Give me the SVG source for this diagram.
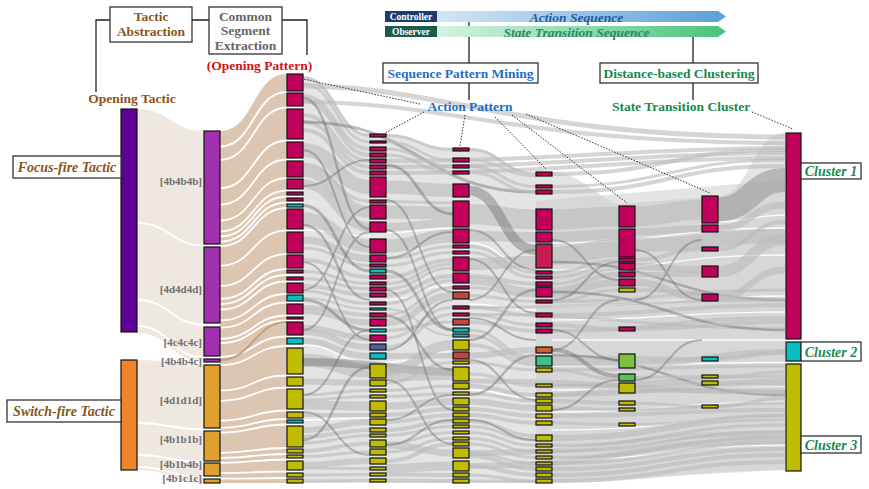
<svg xmlns="http://www.w3.org/2000/svg" width="869" height="489" viewBox="0 0 869 489">
<style>
.t{font-family:"Liberation Serif","Times New Roman",serif;font-weight:bold}
.it{font-style:italic}
.br{fill:#8b5418}
.e{fill:#c9c9c9;fill-opacity:.5}
.l{fill:none;stroke:#bcbcbc;stroke-opacity:.62}
.k{fill:none;stroke:#6a6a6a;stroke-opacity:.42}
.w{fill:none;stroke:#fff;stroke-width:1.8}
.ww{fill:none;stroke:#fff;stroke-width:1.4;stroke-opacity:.9}
.ln{fill:none;stroke:#222;stroke-width:1.3}
.dt{fill:none;stroke:#333;stroke-width:1;stroke-dasharray:1.5 1.5}
.bx{fill:#fff;stroke:#333;stroke-width:1.3}
rect.b{stroke:#111;stroke-width:1.2}
.m{fill:#c0005a}.c{fill:#00c0c0}.y{fill:#c0bc00}.r{fill:#c24444}.o{fill:#d0602c}.g{fill:#40c080}.q{fill:#80c040}.h{fill:#60c060}.p{fill:#5c5c94}.n{fill:#c41e50}
.sg{fill:#707070;font-size:11px;text-anchor:end}
</style>
<defs>
<linearGradient id="gb" x1="0" x2="1"><stop offset="0" stop-color="#d4e6f5"/><stop offset="1" stop-color="#5b9fd6"/></linearGradient>
<linearGradient id="gg" x1="0" x2="1"><stop offset="0" stop-color="#d6f2e2"/><stop offset="1" stop-color="#48c47c"/></linearGradient>
</defs>

<g id="tactic-flows">
<path fill="#efe8e1" d="M137 109C170 109 171 131 204 131L204 362C171 362 170 333 137 333Z"/>
<path fill="#efe8e1" d="M137 360C170 360 171 365 204 365L204 483C171 483 170 470 137 470Z"/>
<path class="w" d="M137 223C170 223 171 245.5 204 245.5M137 300C170 300 171 324.5 204 324.5M137 326C170 326 171 357.5 204 357.5M137 423C170 423 171 429.5 204 429.5M137 455C170 455 171 462 204 462M137 467C170 467 171 477.5 204 477.5"/>
</g>
<g id="segment-flows">
<path fill="#dcc6b2" d="M220 131C254 131 253 74 287 74L287 483L220 483Z"/>
<path class="w" d="M220 146.5C254 146.5 253 92 287 92M220 159.8C254 159.8 253 107.5 287 107.5M220 188.2C254 188.2 253 140.5 287 140.5M220 204.6C254 204.6 253 159.5 287 159.5M220 220.5C254 220.5 253 178 287 178M220 231.3C254 231.3 253 190.5 287 190.5M220 236.4C254 236.4 253 196.5 287 196.5M220 241.6C254 241.6 253 202.5 287 202.5M220 246.3C254 246.3 253 208 287 208M220 265.7C254 265.7 253 230.5 287 230.5M220 285.9C254 285.9 253 254 287 254M220 298.8C254 298.8 253 269 287 269M220 304C254 304 253 275 287 275M220 309.6C254 309.6 253 281.5 287 281.5M220 320.3C254 320.3 253 294 287 294M220 327.7C254 327.7 253 302.5 287 302.5M220 338.8C254 338.8 253 315.5 287 315.5M220 343.1C254 343.1 253 320.5 287 320.5M220 356.9C254 356.9 253 336.5 287 336.5M220 365.1C254 365.1 253 346 287 346M220 390.5C254 390.5 253 375.5 287 375.5M220 400.8C254 400.8 253 387.5 287 387.5M220 420.6C254 420.6 253 410.5 287 410.5M220 427.9C254 427.9 253 419 287 419M220 432.7C254 432.7 253 424.5 287 424.5M220 452.9C254 452.9 253 448 287 448M220 458C254 458 253 454 287 454M220 462.8C254 462.8 253 459.5 287 459.5M220 473.1C254 473.1 253 471.5 287 471.5M220 478.7C254 478.7 253 478 287 478"/>
<path fill="none" stroke="#c4a282" stroke-width="2" d="M220 360C252 360 255 322 287 322"/>
</g>

<g id="connectors">
<path class="e" d="M303 76C336 76 336 134 370 134L386 134C419 134 419 148 453 148L469 148C502 148 502 172 536 172L552 172C580 172 600 200 619 204L718 196C751 196 751 133 785 133L785 470C700 470 640 483 552 483L303 483Z"/>
<path class="e" d="M536 201L785 180L785 470L536 483Z"/>
<path class="ww" d="M552 243C668 243 668 228 785 228M552 270C668 270 668 255 785 255M552 306C668 306 668 296 785 296M552 320C668 320 668 312 785 312M552 340C668 340 668 340 785 340M552 366C668 366 668 362.5 785 362.5M552 390C668 390 668 386 785 386M552 412C668 412 668 402 785 402M552 430C668 430 668 418 785 418M552 448C668 448 668 430 785 430M552 460C668 460 668 445 785 445M718 222C751 222 751 215 785 215M469 243C502 243 502 270 536 270M469 304C502 304 502 310 536 310M469 390C502 390 502 398 536 398M386 233C419 233 419 228 453 228M386 300C419 300 419 285 453 285M386 362C419 362 419 352 453 352M303 230C336 230 336 236 370 236M303 345C336 345 336 362 370 362M303 420C336 420 336 418 370 418"/>
<!-- gap 3-4 -->
<path class="l" stroke-width="3" d="M303 78C336 78 336 135.5 370 135.5"/>
<path class="l" stroke-width="2.5" d="M303 84C336 84 336 142 370 142"/>
<path class="l" stroke-width="4" d="M303 96C336 96 336 149 370 149"/>
<path class="l" stroke-width="4" d="M303 101C336 101 336 155 370 155"/>
<path class="l" stroke-width="4" d="M303 115C336 115 336 161 370 161"/>
<path class="l" stroke-width="4" d="M303 122C336 122 336 167 370 167"/>
<path class="l" stroke-width="4" d="M303 130C336 130 336 173 370 173"/>
<path class="l" stroke-width="14" d="M303 150C336 150 336 187 370 187"/>
<path class="l" stroke-width="3" d="M303 164C336 164 336 201.5 370 201.5"/>
<path class="l" stroke-width="12" d="M303 171C336 171 336 212 370 212"/>
<path class="l" stroke-width="9" d="M303 184C336 184 336 227 370 227"/>
<path class="l" stroke-width="13" d="M303 219C336 219 336 246 370 246"/>
<path class="l" stroke-width="7" d="M303 240C336 240 336 258.5 370 258.5"/>
<path class="l" stroke-width="3" d="M303 248C336 248 336 265.5 370 265.5"/>
<path class="l" stroke-width="4" d="M303 260C336 260 336 277 370 277"/>
<path class="l" stroke-width="3" d="M303 271.5C336 271.5 336 283.5 370 283.5"/>
<path class="l" stroke-width="3" d="M303 278.5C336 278.5 336 289 370 289"/>
<path class="l" stroke-width="4" d="M303 286C336 286 336 295 370 295"/>
<path class="l" stroke-width="3" d="M303 291C336 291 336 303.5 370 303.5"/>
<path class="l" stroke-width="2" d="M303 298C336 298 336 309 370 309"/>
<path class="l" stroke-width="4" d="M303 307C336 307 336 315 370 315"/>
<path class="l" stroke-width="6" d="M303 311C336 311 336 322.5 370 322.5"/>
<path class="l" stroke-width="6" d="M303 328C336 328 336 338 370 338"/>
<path class="l" stroke-width="6" d="M303 332C336 332 336 347 370 347"/>
<path class="l" stroke-width="6" d="M303 341C336 341 336 356 370 356"/>
<path class="l" stroke-width="13" d="M303 360C336 360 336 371 370 371"/>
<path class="l" stroke-width="6" d="M303 381.5C336 381.5 336 383 370 383"/>
<path class="l" stroke-width="3" d="M303 395C336 395 336 390.5 370 390.5"/>
<path class="l" stroke-width="3" d="M303 400C336 400 336 396.5 370 396.5"/>
<path class="l" stroke-width="9" d="M303 405C336 405 336 406 370 406"/>
<path class="l" stroke-width="4" d="M303 415C336 415 336 415 370 415"/>
<path class="l" stroke-width="6" d="M303 430C336 430 336 422 370 422"/>
<path class="l" stroke-width="4" d="M303 437C336 437 336 430 370 430"/>
<path class="l" stroke-width="3" d="M303 443C336 443 336 435.5 370 435.5"/>
<path class="l" stroke-width="4" d="M303 451C336 451 336 443.5 370 443.5"/>
<path class="l" stroke-width="3" d="M303 456.5C336 456.5 336 452 370 452"/>
<path class="l" stroke-width="6" d="M303 465C336 465 336 461 370 461"/>
<path class="l" stroke-width="3" d="M303 468C336 468 336 468.5 370 468.5"/>
<path class="l" stroke-width="3" d="M303 475C336 475 336 474.5 370 474.5"/>
<path class="l" stroke-width="3" d="M303 481C336 481 336 480.5 370 480.5"/>
<path class="l" stroke-width="5" d="M303 86C440 86 520 137 785 137"/>
<path class="l" stroke-width="4" d="M303 102C450 102 520 143 785 143"/>
<path class="k" stroke-width="3" d="M303 205.5C336 205.5 336 271 370 271"/>
<path class="k" stroke-width="3" d="M303 300C336 300 336 330.5 370 330.5"/>
<path class="k" stroke-width="8" d="M303 362C380 362 400 372 453 372"/>
<path class="k" stroke-width="3" d="M303 122C420 122 420 192 536 192"/>
<path class="k" stroke-width="2.5" d="M303 98C336 98 336 229 370 229M303 225C336 225 336 300 370 300M303 440C336 440 336 367 370 367"/>
<path class="k" stroke-width="2" d="M303 150C336 150 336 247 370 247M303 262C336 262 336 340 370 340M303 330C336 330 336 232 370 232M303 395C336 395 336 330 370 330M303 290C336 290 336 207 370 207M303 186C336 186 336 160 370 160M303 412C336 412 336 455 370 455"/>
<!-- gap 4-5 -->
<path class="l" stroke-width="3" d="M386 135.5C419 135.5 419 149.5 453 149.5"/>
<path class="l" stroke-width="2.5" d="M386 142C419 142 419 160 453 160"/>
<path class="l" stroke-width="3" d="M386 149C419 149 419 166.5 453 166.5"/>
<path class="l" stroke-width="3" d="M386 155C419 155 419 172.5 453 172.5"/>
<path class="l" stroke-width="13" d="M386 187C419 187 419 190.5 453 190.5"/>
<path class="l" stroke-width="3" d="M386 201.5C419 201.5 419 203 453 203"/>
<path class="l" stroke-width="13" d="M386 212C419 212 419 213 453 213"/>
<path class="l" stroke-width="8" d="M386 227C419 227 419 223 453 223"/>
<path class="l" stroke-width="13" d="M386 246C419 246 419 236 453 236"/>
<path class="l" stroke-width="3" d="M386 258.5C419 258.5 419 246.5 453 246.5"/>
<path class="l" stroke-width="3" d="M386 265.5C419 265.5 419 252.5 453 252.5"/>
<path class="l" stroke-width="4" d="M386 277C419 277 419 260 453 260"/>
<path class="l" stroke-width="3" d="M386 283.5C419 283.5 419 264 453 264"/>
<path class="l" stroke-width="3" d="M386 289C419 289 419 268 453 268"/>
<path class="l" stroke-width="4" d="M386 295C419 295 419 276 453 276"/>
<path class="l" stroke-width="3" d="M386 303.5C419 303.5 419 280.5 453 280.5"/>
<path class="l" stroke-width="3" d="M386 315C419 315 419 287.5 453 287.5"/>
<path class="l" stroke-width="7" d="M386 322.5C419 322.5 419 295.5 453 295.5"/>
<path class="l" stroke-width="3" d="M386 338C419 338 419 307.5 453 307.5"/>
<path class="l" stroke-width="3" d="M386 347C419 347 419 314.5 453 314.5"/>
<path class="l" stroke-width="3" d="M386 330.5C419 330.5 419 322 453 322"/>
<path class="l" stroke-width="2" d="M386 309C419 309 419 335.5 453 335.5"/>
<path class="l" stroke-width="10" d="M386 371C419 371 419 345 453 345"/>
<path class="l" stroke-width="6" d="M386 356C419 356 419 355.5 453 355.5"/>
<path class="l" stroke-width="3" d="M386 383C419 383 419 362.5 453 362.5"/>
<path class="l" stroke-width="12" d="M386 375C419 375 419 374 453 374"/>
<path class="l" stroke-width="3" d="M386 390.5C419 390.5 419 386 453 386"/>
<path class="l" stroke-width="3" d="M386 396.5C419 396.5 419 393.5 453 393.5"/>
<path class="l" stroke-width="7" d="M386 406C419 406 419 401.5 453 401.5"/>
<path class="l" stroke-width="4" d="M386 415C419 415 419 409 453 409"/>
<path class="l" stroke-width="4" d="M386 422C419 422 419 415 453 415"/>
<path class="l" stroke-width="4" d="M386 430C419 430 419 421 453 421"/>
<path class="l" stroke-width="3" d="M386 435.5C419 435.5 419 426.5 453 426.5"/>
<path class="l" stroke-width="3" d="M386 443.5C419 443.5 419 432.5 453 432.5"/>
<path class="l" stroke-width="3" d="M386 452C419 452 419 438.5 453 438.5"/>
<path class="l" stroke-width="4" d="M386 461C419 461 419 444 453 444"/>
<path class="l" stroke-width="7" d="M386 445C419 445 419 453 453 453"/>
<path class="l" stroke-width="9" d="M386 468.5C419 468.5 419 466 453 466"/>
<path class="l" stroke-width="4" d="M386 474.5C419 474.5 419 475 453 475"/>
<path class="l" stroke-width="4" d="M386 480.5C419 480.5 419 481 453 481"/>
<path class="l" stroke-width="4" d="M386 161C560 161 640 148 785 148"/>
<path class="l" stroke-width="4" d="M386 167C560 167 640 153 785 153"/>
<path class="l" stroke-width="4" d="M386 173C560 173 640 158 785 158"/>
<path class="k" stroke-width="3" d="M386 271C419 271 419 330 453 330M386 165C419 165 419 214 453 214"/>
<path class="k" stroke-width="2.5" d="M386 316C419 316 419 370 453 370"/>
<path class="k" stroke-width="2" d="M386 200C419 200 419 292 453 292M386 258C419 258 419 232 453 232M386 350C419 350 419 300 453 300M386 420C419 420 419 395 453 395M386 290C419 290 419 410 453 410M386 230C419 230 419 330 453 330M386 380C419 380 419 444 453 444M386 445C419 445 419 420 453 420"/>
<!-- gap 5-6 -->
<path class="l" stroke-width="3" d="M469 149.5C502 149.5 502 174 536 174"/>
<path class="l" stroke-width="2" d="M469 160C502 160 502 176 536 176"/>
<path class="l" stroke-width="3" d="M469 166.5C502 166.5 502 186.5 536 186.5"/>
<path class="l" stroke-width="3" d="M469 172.5C502 172.5 502 192 536 192"/>
<path class="l" stroke-width="20" d="M469 214C502 214 502 219.5 536 219.5"/>
<path class="l" stroke-width="10" d="M469 236C502 236 502 237 536 237"/>
<path class="l" stroke-width="12" d="M469 264C502 264 502 262 536 262"/>
<path class="l" stroke-width="3" d="M469 246.5C502 246.5 502 272.5 536 272.5"/>
<path class="l" stroke-width="3" d="M469 252.5C502 252.5 502 277.5 536 277.5"/>
<path class="l" stroke-width="4" d="M469 276C502 276 502 284 536 284"/>
<path class="l" stroke-width="8" d="M469 280.5C502 280.5 502 292 536 292"/>
<path class="l" stroke-width="3" d="M469 287.5C502 287.5 502 296 536 296"/>
<path class="l" stroke-width="3" d="M469 295.5C502 295.5 502 301.5 536 301.5"/>
<path class="l" stroke-width="3" d="M469 307.5C502 307.5 502 315 536 315"/>
<path class="l" stroke-width="3" d="M469 314.5C502 314.5 502 325 536 325"/>
<path class="l" stroke-width="4" d="M469 322C502 322 502 331 536 331"/>
<path class="l" stroke-width="6" d="M469 355.5C502 355.5 502 350 536 350"/>
<path class="l" stroke-width="3" d="M469 330C502 330 502 358 536 358"/>
<path class="l" stroke-width="3" d="M469 335.5C502 335.5 502 361 536 361"/>
<path class="l" stroke-width="4" d="M469 345C502 345 502 364 536 364"/>
<path class="l" stroke-width="3" d="M469 362.5C502 362.5 502 370 536 370"/>
<path class="l" stroke-width="3" d="M469 374C502 374 502 385.5 536 385.5"/>
<path class="l" stroke-width="4" d="M469 386C502 386 502 395 536 395"/>
<path class="l" stroke-width="3" d="M469 393.5C502 393.5 502 401 536 401"/>
<path class="l" stroke-width="6" d="M469 401.5C502 401.5 502 408 536 408"/>
<path class="l" stroke-width="4" d="M469 409C502 409 502 416 536 416"/>
<path class="l" stroke-width="4" d="M469 415C502 415 502 423 536 423"/>
<path class="l" stroke-width="4" d="M469 421C502 421 502 436 536 436"/>
<path class="l" stroke-width="3" d="M469 426.5C502 426.5 502 440 536 440"/>
<path class="l" stroke-width="3" d="M469 432.5C502 432.5 502 445.5 536 445.5"/>
<path class="l" stroke-width="3" d="M469 438.5C502 438.5 502 451.5 536 451.5"/>
<path class="l" stroke-width="3" d="M469 444C502 444 502 457.5 536 457.5"/>
<path class="l" stroke-width="3" d="M469 453C502 453 502 463.5 536 463.5"/>
<path class="l" stroke-width="4" d="M469 456C502 456 502 469 536 469"/>
<path class="l" stroke-width="4" d="M469 466C502 466 502 475 536 475"/>
<path class="l" stroke-width="3" d="M469 475C502 475 502 481 536 481"/>
<path class="l" stroke-width="3" d="M469 481C502 481 502 481.5 536 481.5"/>
<path class="l" stroke-width="5" d="M469 381C627 381 627 392 785 392"/>
<path class="l" stroke-width="6" d="M469 453C627 453 627 433 785 433"/>
<path class="l" stroke-width="6" d="M469 466C627 466 627 440 785 440"/>
<path class="l" stroke-width="3" d="M469 307.5C627 307.5 627 300 785 300"/>
<path class="l" stroke-width="3" d="M469 314.5C627 314.5 627 328 785 328"/>
<path class="k" stroke-width="10" d="M469 190.5C502 190.5 502 250 536 250"/>
<path class="k" stroke-width="2.5" d="M469 340C502 340 502 290 536 290M469 395C502 395 502 355 536 355"/>
<path class="k" stroke-width="2" d="M469 259C502 259 502 313 536 313M469 300C502 300 502 250 536 250M469 360C502 360 502 400 536 400M469 230C502 230 502 270 536 270M469 420C502 420 502 440 536 440M469 318C502 318 502 340 536 340"/>
<!-- gap 6-7 -->
<path class="l" stroke-width="20" d="M552 219.5C585 219.5 585 216.5 619 216.5"/>
<path class="l" stroke-width="10" d="M552 237C585 237 585 234 619 234"/>
<path class="l" stroke-width="18" d="M552 256C585 256 585 248 619 248"/>
<path class="l" stroke-width="3" d="M552 272.5C585 272.5 585 260 619 260"/>
<path class="l" stroke-width="3" d="M552 277.5C585 277.5 585 265 619 265"/>
<path class="l" stroke-width="3" d="M552 284C585 284 585 268.5 619 268.5"/>
<path class="l" stroke-width="5" d="M552 290C585 290 585 274.5 619 274.5"/>
<path class="l" stroke-width="7" d="M552 294C585 294 585 282.5 619 282.5"/>
<path class="l" stroke-width="3" d="M552 301.5C585 301.5 585 290 619 290"/>
<path class="l" stroke-width="4" d="M552 325C585 325 585 329 619 329"/>
<path class="l" stroke-width="10" d="M552 361C585 361 585 361 619 361"/>
<path class="l" stroke-width="3" d="M552 370C585 370 585 379 619 379"/>
<path class="l" stroke-width="3" d="M552 385.5C585 385.5 585 386 619 386"/>
<path class="l" stroke-width="4" d="M552 395C585 395 585 390 619 390"/>
<path class="l" stroke-width="4" d="M552 401C585 401 585 403 619 403"/>
<path class="l" stroke-width="3" d="M552 408C585 408 585 409.5 619 409.5"/>
<path class="l" stroke-width="3" d="M552 423C585 423 585 424.5 619 424.5"/>
<path class="l" stroke-width="4" d="M552 174C668 174 668 150 785 150"/>
<path class="l" stroke-width="3" d="M552 186.5C668 186.5 668 160 785 160"/>
<path class="l" stroke-width="4" d="M552 192C668 192 668 166 785 166"/>
<path class="l" stroke-width="4" d="M552 315C668 315 668 305 785 305"/>
<path class="l" stroke-width="4" d="M552 331C668 331 668 318 785 318"/>
<path class="l" stroke-width="4" d="M552 416C668 416 668 410 785 410"/>
<path class="l" stroke-width="6" d="M552 438C668 438 668 418 785 418"/>
<path class="l" stroke-width="3" d="M552 445.5C668 445.5 668 425 785 425"/>
<path class="l" stroke-width="3" d="M552 451.5C668 451.5 668 431 785 431"/>
<path class="l" stroke-width="3" d="M552 457.5C668 457.5 668 437 785 437"/>
<path class="l" stroke-width="3" d="M552 463.5C668 463.5 668 443 785 443"/>
<path class="l" stroke-width="4" d="M552 469C668 469 668 449 785 449"/>
<path class="l" stroke-width="4" d="M552 475C668 475 668 455 785 455"/>
<path class="l" stroke-width="4" d="M552 481C668 481 668 462 785 462"/>
<path class="l" stroke-width="3" d="M552 301.5C668 301.5 668 290 785 290"/>
<path class="l" stroke-width="3" d="M552 370C668 370 668 366 785 366"/>
<path class="l" stroke-width="3" d="M552 385.5C668 385.5 668 376 785 376"/>
<path class="l" stroke-width="4" d="M552 395C668 395 668 384 785 384"/>
<path class="k" stroke-width="4" d="M552 350C585 350 585 376 619 376"/>
<path class="k" stroke-width="2" d="M552 240C585 240 585 280 619 280M552 300C585 300 585 262 619 262M552 330C585 330 585 360 619 360M552 410C585 410 585 380 619 380M552 350C585 350 585 300 619 300"/>
<path class="k" stroke-width="2.5" d="M552 355C668 355 668 395 785 395M552 292C668 292 668 330 785 330M552 262C668 262 668 300 785 300"/>
<!-- gap 7-8 -->
<path class="l" stroke-width="20" d="M635 216.5C668 216.5 668 209.5 702 209.5"/>
<path class="l" stroke-width="7" d="M635 232C668 232 668 228.5 702 228.5"/>
<path class="l" stroke-width="4" d="M635 260C668 260 668 249 702 249"/>
<path class="l" stroke-width="7" d="M635 266.5C668 266.5 668 269.5 702 269.5"/>
<path class="l" stroke-width="5" d="M635 274.5C668 274.5 668 274 702 274"/>
<path class="l" stroke-width="7" d="M635 282.5C668 282.5 668 297.5 702 297.5"/>
<path class="l" stroke-width="4" d="M635 358C668 358 668 359 702 359"/>
<path class="l" stroke-width="3" d="M635 377.5C668 377.5 668 376.5 702 376.5"/>
<path class="l" stroke-width="4" d="M635 386C668 386 668 383 702 383"/>
<path class="l" stroke-width="3" d="M635 403C668 403 668 406.5 702 406.5"/>
<path class="l" stroke-width="14" d="M635 245C710 245 710 236 785 236"/>
<path class="l" stroke-width="4" d="M635 290C710 290 710 300 785 300"/>
<path class="l" stroke-width="4" d="M635 329C710 329 710 322 785 322"/>
<path class="l" stroke-width="6" d="M635 363C710 363 710 352 785 352"/>
<path class="l" stroke-width="5" d="M635 390C710 390 710 392 785 392"/>
<path class="l" stroke-width="3" d="M635 409.5C710 409.5 710 403 785 403"/>
<path class="l" stroke-width="3" d="M635 424.5C710 424.5 710 415 785 415"/>
<path class="k" stroke-width="2" d="M635 250C668 250 668 300 702 300M635 300C668 300 668 240 702 240M635 380C668 380 668 340 702 340"/>
<!-- gap 8-cluster -->
<path fill="none" stroke="#9a9a9a" stroke-opacity=".6" stroke-width="24" d="M718 209.5C751 209.5 751 180 785 180"/>
<path class="l" stroke-width="7" d="M718 228.5C751 228.5 751 205 785 205"/>
<path class="l" stroke-width="4" d="M718 249C751 249 751 222 785 222"/>
<path class="l" stroke-width="11" d="M718 271.5C751 271.5 751 240 785 240"/>
<path class="l" stroke-width="7" d="M718 297.5C751 297.5 751 270 785 270"/>
<path class="l" stroke-width="4" d="M718 359C751 359 751 352 785 352"/>
<path class="l" stroke-width="3" d="M718 376.5C751 376.5 751 372 785 372"/>
<path class="l" stroke-width="4" d="M718 383C751 383 751 380 785 380"/>
<path class="l" stroke-width="3" d="M718 406.5C751 406.5 751 398 785 398"/>
</g>

<g id="focus-fire-tactic"><rect class="b" x="121" y="109" width="16" height="223" fill="#5c0096"/></g>
<g id="switch-fire-tactic"><rect class="b" x="121" y="360" width="16" height="110" fill="#f0842c"/></g>

<g id="segments">
<rect class="b" x="204" y="131" width="16" height="113" fill="#a030b0"/>
<rect class="b" x="204" y="247" width="16" height="76" fill="#a030b0"/>
<rect class="b" x="204" y="327" width="16" height="29" fill="#a030b0"/>
<rect class="b" x="204" y="359" width="16" height="3" fill="#a030b0"/>
<rect class="b" x="204" y="365" width="16" height="63" fill="#e0a030"/>
<rect class="b" x="204" y="431" width="16" height="30" fill="#e0a030"/>
<rect class="b" x="204" y="463" width="16" height="13" fill="#e0a030"/>
<rect class="b" x="204" y="479" width="16" height="4" fill="#e0a030"/>
<text class="t sg" x="202" y="185">[4b4b4b]</text>
<text class="t sg" x="202" y="293">[4d4d4d]</text>
<text class="t sg" x="202" y="346">[4c4c4c]</text>
<text class="t sg" x="202" y="365">[4b4b4c]</text>
<text class="t sg" x="202" y="404">[4d1d1d]</text>
<text class="t sg" x="202" y="443">[4b1b1b]</text>
<text class="t sg" x="202" y="468">[4b1b4b]</text>
<text class="t sg" x="202" y="482">[4b1c1c]</text>
</g>

<g id="opening-patterns">
<rect class="b m" x="287" y="74" width="16" height="17"/>
<rect class="b m" x="287" y="93" width="16" height="13"/>
<rect class="b m" x="287" y="109" width="16" height="30"/>
<rect class="b m" x="287" y="142" width="16" height="16"/>
<rect class="b m" x="287" y="161" width="16" height="16"/>
<rect class="b m" x="287" y="179" width="16" height="10"/>
<rect class="b m" x="287" y="192" width="16" height="3"/>
<rect class="b m" x="287" y="198" width="16" height="3"/>
<rect class="b c" x="287" y="204" width="16" height="3"/>
<rect class="b m" x="287" y="209" width="16" height="20"/>
<rect class="b m" x="287" y="232" width="16" height="21"/>
<rect class="b m" x="287" y="255" width="16" height="13"/>
<rect class="b m" x="287" y="270" width="16" height="3"/>
<rect class="b m" x="287" y="277" width="16" height="3"/>
<rect class="b m" x="287" y="283" width="16" height="10"/>
<rect class="b c" x="287" y="295" width="16" height="6"/>
<rect class="b m" x="287" y="304" width="16" height="10"/>
<rect class="b m" x="287" y="317" width="16" height="2"/>
<rect class="b m" x="287" y="322" width="16" height="13"/>
<rect class="b c" x="287" y="338" width="16" height="6"/>
<rect class="b y" x="287" y="348" width="16" height="26"/>
<rect class="b y" x="287" y="377" width="16" height="9"/>
<rect class="b y" x="287" y="389" width="16" height="20"/>
<rect class="b y" x="287" y="412" width="16" height="6"/>
<rect class="b c" x="287" y="420" width="16" height="3"/>
<rect class="b y" x="287" y="426" width="16" height="21"/>
<rect class="b y" x="287" y="449" width="16" height="4"/>
<rect class="b y" x="287" y="455" width="16" height="3"/>
<rect class="b y" x="287" y="461" width="16" height="9"/>
<rect class="b y" x="287" y="473" width="16" height="4"/>
<rect class="b y" x="287" y="479" width="16" height="4"/>
</g>

<g id="action-col-2">
<rect class="b m" x="370" y="134" width="16" height="3"/>
<rect class="b m" x="370" y="141" width="16" height="2"/>
<rect class="b m" x="370" y="147" width="16" height="4"/>
<rect class="b m" x="370" y="153" width="16" height="4"/>
<rect class="b m" x="370" y="159" width="16" height="4"/>
<rect class="b m" x="370" y="165" width="16" height="4"/>
<rect class="b m" x="370" y="171" width="16" height="4"/>
<rect class="b m" x="370" y="177" width="16" height="20"/>
<rect class="b m" x="370" y="200" width="16" height="3"/>
<rect class="b m" x="370" y="205" width="16" height="14"/>
<rect class="b m" x="370" y="222" width="16" height="10"/>
<rect class="b m" x="370" y="239" width="16" height="14"/>
<rect class="b m" x="370" y="255" width="16" height="7"/>
<rect class="b m" x="370" y="264" width="16" height="3"/>
<rect class="b c" x="370" y="269" width="16" height="4"/>
<rect class="b m" x="370" y="275" width="16" height="4"/>
<rect class="b m" x="370" y="282" width="16" height="3"/>
<rect class="b m" x="370" y="287" width="16" height="4"/>
<rect class="b m" x="370" y="293" width="16" height="4"/>
<rect class="b m" x="370" y="302" width="16" height="3"/>
<rect class="b c" x="370" y="308" width="16" height="2"/>
<rect class="b m" x="370" y="313" width="16" height="4"/>
<rect class="b m" x="370" y="319" width="16" height="7"/>
<rect class="b c" x="370" y="329" width="16" height="3"/>
<rect class="b m" x="370" y="335" width="16" height="6"/>
<rect class="b p" x="370" y="344" width="16" height="6"/>
<rect class="b c" x="370" y="353" width="16" height="6"/>
<rect class="b y" x="370" y="364" width="16" height="14"/>
<rect class="b y" x="370" y="380" width="16" height="6"/>
<rect class="b y" x="370" y="389" width="16" height="3"/>
<rect class="b y" x="370" y="395" width="16" height="3"/>
<rect class="b y" x="370" y="401" width="16" height="10"/>
<rect class="b y" x="370" y="413" width="16" height="4"/>
<rect class="b y" x="370" y="419" width="16" height="6"/>
<rect class="b y" x="370" y="428" width="16" height="4"/>
<rect class="b y" x="370" y="434" width="16" height="3"/>
<rect class="b y" x="370" y="440" width="16" height="7"/>
<rect class="b y" x="370" y="449" width="16" height="6"/>
<rect class="b y" x="370" y="458" width="16" height="6"/>
<rect class="b y" x="370" y="467" width="16" height="3"/>
<rect class="b y" x="370" y="473" width="16" height="3"/>
<rect class="b y" x="370" y="479" width="16" height="3"/>
</g>

<g id="action-col-3">
<rect class="b m" x="453" y="148" width="16" height="3"/>
<rect class="b m" x="453" y="158" width="16" height="4"/>
<rect class="b m" x="453" y="165" width="16" height="3"/>
<rect class="b m" x="453" y="171" width="16" height="3"/>
<rect class="b m" x="453" y="184" width="16" height="13"/>
<rect class="b m" x="453" y="201" width="16" height="26"/>
<rect class="b m" x="453" y="229" width="16" height="14"/>
<rect class="b m" x="453" y="245" width="16" height="3"/>
<rect class="b m" x="453" y="251" width="16" height="3"/>
<rect class="b m" x="453" y="257" width="16" height="14"/>
<rect class="b m" x="453" y="273" width="16" height="10"/>
<rect class="b m" x="453" y="286" width="16" height="3"/>
<rect class="b r" x="453" y="292" width="16" height="7"/>
<rect class="b m" x="453" y="306" width="16" height="3"/>
<rect class="b m" x="453" y="313" width="16" height="3"/>
<rect class="b r" x="453" y="319" width="16" height="6"/>
<rect class="b c" x="453" y="328" width="16" height="4"/>
<rect class="b c" x="453" y="334" width="16" height="3"/>
<rect class="b y" x="453" y="340" width="16" height="10"/>
<rect class="b r" x="453" y="352" width="16" height="7"/>
<rect class="b y" x="453" y="361" width="16" height="3"/>
<rect class="b y" x="453" y="367" width="16" height="14"/>
<rect class="b y" x="453" y="383" width="16" height="6"/>
<rect class="b y" x="453" y="392" width="16" height="3"/>
<rect class="b y" x="453" y="398" width="16" height="7"/>
<rect class="b y" x="453" y="407" width="16" height="4"/>
<rect class="b y" x="453" y="413" width="16" height="4"/>
<rect class="b y" x="453" y="419" width="16" height="4"/>
<rect class="b y" x="453" y="425" width="16" height="3"/>
<rect class="b y" x="453" y="431" width="16" height="3"/>
<rect class="b y" x="453" y="437" width="16" height="3"/>
<rect class="b y" x="453" y="442" width="16" height="4"/>
<rect class="b y" x="453" y="448" width="16" height="10"/>
<rect class="b y" x="453" y="461" width="16" height="10"/>
<rect class="b y" x="453" y="473" width="16" height="4"/>
<rect class="b y" x="453" y="479" width="16" height="4"/>
</g>

<g id="action-col-4">
<rect class="b m" x="536" y="172" width="16" height="4"/>
<rect class="b m" x="536" y="185" width="16" height="3"/>
<rect class="b m" x="536" y="190" width="16" height="4"/>
<rect class="b m" x="536" y="209" width="16" height="21"/>
<rect class="b m" x="536" y="232" width="16" height="10"/>
<rect class="b n" x="536" y="244" width="16" height="24"/>
<rect class="b m" x="536" y="271" width="16" height="3"/>
<rect class="b m" x="536" y="276" width="16" height="3"/>
<rect class="b m" x="536" y="282" width="16" height="4"/>
<rect class="b m" x="536" y="287" width="16" height="10"/>
<rect class="b m" x="536" y="300" width="16" height="3"/>
<rect class="b m" x="536" y="313" width="16" height="4"/>
<rect class="b m" x="536" y="323" width="16" height="4"/>
<rect class="b m" x="536" y="329" width="16" height="4"/>
<rect class="b o" x="536" y="347" width="16" height="6"/>
<rect class="b g" x="536" y="356" width="16" height="10"/>
<rect class="b y" x="536" y="368" width="16" height="4"/>
<rect class="b y" x="536" y="384" width="16" height="3"/>
<rect class="b y" x="536" y="393" width="16" height="4"/>
<rect class="b y" x="536" y="399" width="16" height="4"/>
<rect class="b y" x="536" y="405" width="16" height="6"/>
<rect class="b y" x="536" y="414" width="16" height="4"/>
<rect class="b y" x="536" y="421" width="16" height="4"/>
<rect class="b y" x="536" y="435" width="16" height="6"/>
<rect class="b y" x="536" y="444" width="16" height="3"/>
<rect class="b y" x="536" y="450" width="16" height="3"/>
<rect class="b y" x="536" y="456" width="16" height="3"/>
<rect class="b y" x="536" y="462" width="16" height="3"/>
<rect class="b y" x="536" y="467" width="16" height="4"/>
<rect class="b y" x="536" y="473" width="16" height="4"/>
<rect class="b y" x="536" y="479" width="16" height="4"/>
</g>

<g id="action-col-5">
<rect class="b m" x="619" y="206" width="16" height="21"/>
<rect class="b m" x="619" y="229" width="16" height="28"/>
<rect class="b m" x="619" y="258" width="16" height="4"/>
<rect class="b m" x="619" y="263" width="16" height="7"/>
<rect class="b m" x="619" y="272" width="16" height="5"/>
<rect class="b m" x="619" y="279" width="16" height="7"/>
<rect class="b y" x="619" y="288" width="16" height="4"/>
<rect class="b m" x="619" y="327" width="16" height="4"/>
<rect class="b q" x="619" y="354" width="16" height="14"/>
<rect class="b h" x="619" y="374" width="16" height="7"/>
<rect class="b y" x="619" y="383" width="16" height="10"/>
<rect class="b y" x="619" y="401" width="16" height="4"/>
<rect class="b y" x="619" y="408" width="16" height="3"/>
<rect class="b y" x="619" y="423" width="16" height="3"/>
</g>

<g id="action-col-6">
<rect class="b m" x="702" y="196" width="16" height="27"/>
<rect class="b m" x="702" y="225" width="16" height="7"/>
<rect class="b m" x="702" y="247" width="16" height="4"/>
<rect class="b m" x="702" y="266" width="16" height="11"/>
<rect class="b m" x="702" y="294" width="16" height="7"/>
<rect class="b c" x="702" y="357" width="16" height="4"/>
<rect class="b y" x="702" y="375" width="16" height="3"/>
<rect class="b y" x="702" y="381" width="16" height="4"/>
<rect class="b y" x="702" y="405" width="16" height="3"/>
</g>

<g id="cluster-1"><rect class="b m" x="786" y="133" width="15" height="206"/><rect class="bx" x="801" y="163" width="60" height="16"/><text class="t it" x="831" y="176" font-size="14" fill="#178a4e" text-anchor="middle">Cluster 1</text></g>
<g id="cluster-2"><rect class="b c" x="786" y="342" width="15" height="19"/><rect class="bx" x="801" y="342" width="60" height="19"/><text class="t it" x="831" y="356.5" font-size="14" fill="#178a4e" text-anchor="middle">Cluster 2</text></g>
<g id="cluster-3"><rect class="b y" x="786" y="364" width="15" height="107"/><rect class="bx" x="801" y="436" width="60" height="17"/><text class="t it" x="831" y="449.5" font-size="14" fill="#178a4e" text-anchor="middle">Cluster 3</text></g>

<g id="focus-fire-label"><rect class="bx" x="13" y="156" width="108" height="22"/><text class="t it br" x="67" y="172" font-size="14" text-anchor="middle">Focus-fire Tactic</text></g>
<g id="switch-fire-label"><rect class="bx" x="7" y="400" width="114" height="22"/><text class="t it br" x="64" y="416" font-size="14" text-anchor="middle">Switch-fire Tactic</text></g>

<g id="annotation-lines">
<path class="ln" d="M110 20H96V92M192 20H209M282 20H307V55"/>
<path class="ln" d="M527 17H469V63M469 83V100M652 32H693V63M693 83V100"/>
<path class="dt" d="M420 104L303 79M424 112L385 133M465 115L460 146M495 117L546 169M512 115L627 203M526 114L710 193M752 112L793 129"/>
</g>
<g id="tactic-abstraction"><rect class="bx" x="110" y="7" width="82" height="35"/><text class="t br" x="151" y="21" font-size="13.5" text-anchor="middle">Tactic</text><text class="t br" x="151" y="36" font-size="13.5" text-anchor="middle">Abstraction</text></g>
<g id="common-segment"><rect class="bx" x="209" y="7" width="73" height="47"/><text class="t" x="245.5" y="21" font-size="13.5" fill="#666" text-anchor="middle">Common</text><text class="t" x="245.5" y="35" font-size="13.5" fill="#666" text-anchor="middle">Segment</text><text class="t" x="245.5" y="50" font-size="13.5" fill="#666" text-anchor="middle">Extraction</text></g>
<text class="t" x="259.5" y="70" font-size="13.5" fill="#d01414" text-anchor="middle">(Opening Pattern)</text>
<text class="t br" x="132" y="103" font-size="13.5" text-anchor="middle">Opening Tactic</text>

<g id="controller-bar"><polygon points="437,11 718,11 726,16.5 718,22 437,22" fill="url(#gb)"/><rect x="385" y="11" width="52" height="11" fill="#1e3b6f"/><text class="t" x="411" y="20" font-size="9.5" fill="#fff" text-anchor="middle">Controller</text><text class="t it" x="576.5" y="21.5" font-size="13.5" fill="#1d5fa8" text-anchor="middle">Action Sequence</text></g>
<g id="observer-bar"><polygon points="437,26 718,26 726,31.5 718,37 437,37" fill="url(#gg)"/><rect x="385" y="26" width="52" height="11" fill="#1c5a4c"/><text class="t" x="411" y="35" font-size="9.5" fill="#fff" text-anchor="middle">Observer</text><text class="t it" x="576.5" y="36.5" font-size="13.5" fill="#2a8a68" text-anchor="middle">State Transition Sequence</text></g>
<g id="sequence-pattern-mining"><rect class="bx" x="383" y="63" width="155" height="20"/><text class="t" x="460.5" y="78" font-size="13.5" fill="#1d6fc4" text-anchor="middle">Sequence Pattern Mining</text></g>
<g id="distance-clustering"><rect class="bx" x="600" y="63" width="158" height="20"/><text class="t" x="679" y="78" font-size="13.5" fill="#178a4e" text-anchor="middle">Distance-based Clustering</text></g>
<text class="t" x="470" y="111" font-size="13.5" fill="#1d6fc4" text-anchor="middle">Action Pattern</text>
<text class="t" x="681" y="111" font-size="13.5" fill="#178a4e" text-anchor="middle">State Transition Cluster</text>
</svg>
